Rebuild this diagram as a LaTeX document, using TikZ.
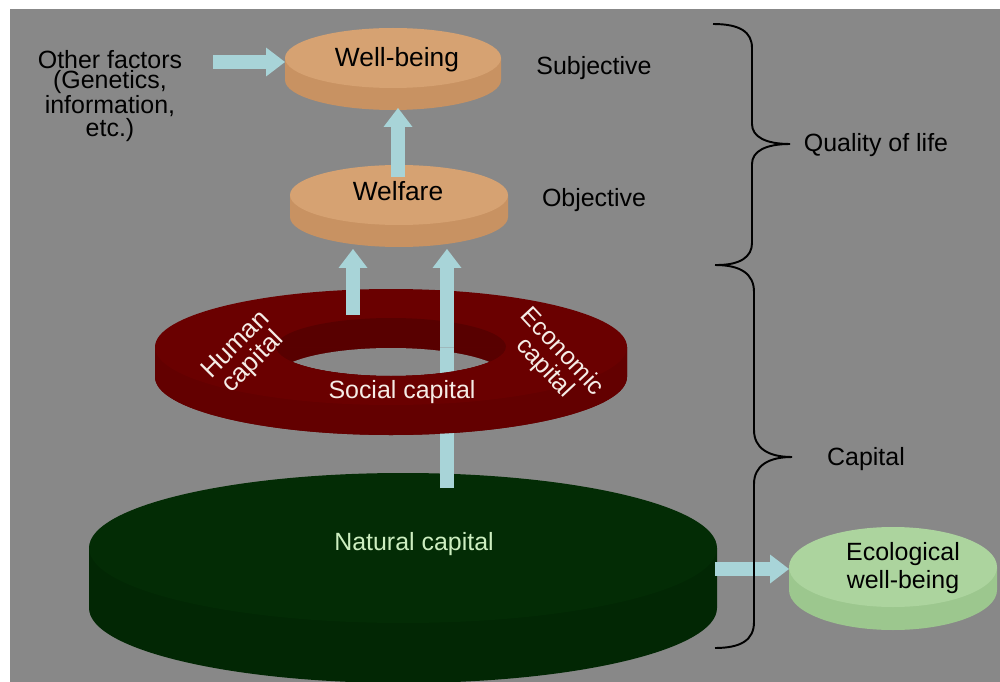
\documentclass[tikz,border=0pt]{standalone}
\usepackage{fontspec}
\setmainfont{Liberation Sans}
\usetikzlibrary{arrows.meta}
\definecolor{bgray}{RGB}{136,136,136}
\definecolor{tantop}{RGB}{214,162,114}
\definecolor{tanside}{RGB}{200,146,98}
\definecolor{ringtop}{RGB}{106,0,0}
\definecolor{ringside}{RGB}{99,0,0}
\definecolor{ringin}{RGB}{88,0,0}
\definecolor{ncTop}{RGB}{3,44,5}
\definecolor{ncSide}{RGB}{2,39,4}
\definecolor{ecoTop}{RGB}{172,212,158}
\definecolor{ecoSide}{RGB}{156,199,142}
\definecolor{arrowc}{RGB}{168,212,216}
\definecolor{nctext}{RGB}{205,238,192}
\definecolor{ringtext}{RGB}{245,236,230}
% disk: cx, cy, rx, ry, thickness, top colour, side colour
\newcommand{\mydisk}[7]{%
  \fill[#7] (#1-#3,#2) -- (#1-#3,#2+#5) arc[start angle=180,end angle=0,x radius=#3,y radius=#4] -- (#1+#3,#2) -- cycle;
  \fill[#6] (#1,#2) ellipse[x radius=#3,y radius=#4];
}
\tikzset{
  barrow/.style={draw=arrowc, line width=0.29cm, -{Triangle[length=0.38cm,width=0.58cm,line width=0pt]}},
  lbl/.style={font=\fontsize{14.2}{16}\selectfont, text=black, inner sep=0pt},
  bracepath/.style={draw=black, line width=1.1pt},
}
\begin{document}
\begin{tikzpicture}[x=0.02cm,y=-0.02cm]
\useasboundingbox (0,0) rectangle (1000,682);
\fill[white] (0,0) rectangle (1000,682);
\fill[bgray] (10,9) rectangle (1000,682);

% Natural capital disk
\mydisk{403}{548}{314}{75}{60}{ncTop}{ncSide}

% Ring (full, back)
\fill[ringside] (155,347) -- (155,377) arc[start angle=180,end angle=0,x radius=236,y radius=58] -- (627,347) -- cycle;
\fill[ringtop] (391,347) ellipse[x radius=236,y radius=58];
\fill[ringin] (391,347) ellipse[x radius=115,y radius=29];
\begin{scope}
  \clip (391,347) ellipse[x radius=115,y radius=29];
  \fill[bgray] (391,377) ellipse[x radius=115,y radius=29];
\end{scope}

% Welfare and well-being disks
\mydisk{399}{195}{109}{30}{22}{tantop}{tanside}
\mydisk{393}{58}{108}{30}{22}{tantop}{tanside}
% Ecological well-being disk
\mydisk{893}{567}{104}{40}{23}{ecoTop}{ecoSide}

% connector end points
\coordinate (ncTopA) at (447,488);
\coordinate (wfBotB) at (447,249);
\coordinate (ringTopA) at (353,315);
\coordinate (wfBotA) at (353,249);
\coordinate (wfTop) at (398,177);
\coordinate (wbBot) at (398,108);
\coordinate (ofRight) at (213,62);
\coordinate (wbLeft) at (285,62);
\coordinate (ncRight) at (715,569);
\coordinate (ecoLeft) at (789,569);

\draw[barrow] (ncTopA) -- (wfBotB);
\draw[barrow] (ringTopA) -- (wfBotA);

% Ring front part redrawn over the long arrow
\begin{scope}
  \clip (140,347) rectangle (650,445);
  \fill[ringside, even odd rule] (155,347) -- (155,377) arc[start angle=180,end angle=0,x radius=236,y radius=58] -- (627,347) -- cycle
     (391,347) ellipse[x radius=115,y radius=29];
  \fill[ringtop, even odd rule] (391,347) ellipse[x radius=236,y radius=58]
     (391,347) ellipse[x radius=115,y radius=29];
\end{scope}

\draw[barrow] (wfTop) -- (wbBot);
\draw[barrow] (ofRight) -- (wbLeft);
\draw[barrow] (ncRight) -- (ecoLeft);

% Texts
\node[lbl, anchor=north, align=center, font=\fontsize{14.2}{10.4}\selectfont] (other) at (110,50) {Other factors\\(Genetics,\\information,\\etc.)};
\node[lbl, anchor=base, font=\fontsize{15}{17}\selectfont] (wellbeing) at (397,67) {Well-being};
\node[lbl, anchor=base, font=\fontsize{15}{17}\selectfont] (welfare) at (398,200) {Welfare};
\node[lbl, anchor=base] (subj) at (594,75) {Subjective};
\node[lbl, anchor=base] (obj) at (594,207) {Objective};
\node[lbl, anchor=base] (qol) at (876,152) {Quality of life};
\node[lbl, anchor=base] (capital) at (866,465) {Capital};
\node[lbl, anchor=base, text=ringtext] (social) at (402,398) {Social capital};
\node[lbl, align=center, text=ringtext, rotate=45, font=\fontsize{14.8}{14}\selectfont] (human) at (245,354) {Human\\capital};
\node[lbl, align=center, text=ringtext, rotate=-47, font=\fontsize{14.2}{13.5}\selectfont] (economic) at (553,360) {Economic\\capital};
\node[lbl, anchor=base, text=nctext] (natural) at (414,550) {Natural capital};
\node[lbl, anchor=north, align=center, font=\fontsize{14.2}{15.9}\selectfont] (eco) at (903,542) {Ecological\\well-being};

% Braces
\coordinate (b1top) at (713,24);
\coordinate (b1tip) at (790,144);
\coordinate (b1bot) at (717,265);
\coordinate (b2top) at (715,265);
\coordinate (b2tip) at (792,457);
\coordinate (b2bot) at (715,648);
\draw[bracepath] (b1top) .. controls (740,24) and (752,32) .. (752,48) -- (752,124)
   .. controls (752,137) and (766,144) .. (b1tip)
   .. controls (766,144) and (752,151) .. (752,164) -- (752,243)
   .. controls (752,257) and (740,265) .. (b1bot);
\draw[bracepath] (b2top) .. controls (741,265) and (754,274) .. (754,292) -- (754,430)
   .. controls (754,448) and (768,457) .. (b2tip)
   .. controls (768,457) and (754,466) .. (754,484) -- (754,622)
   .. controls (754,640) and (741,648) .. (b2bot);
\end{tikzpicture}
\end{document}
